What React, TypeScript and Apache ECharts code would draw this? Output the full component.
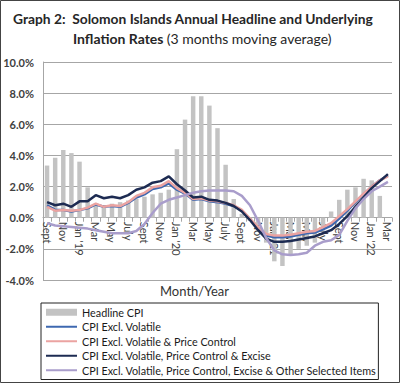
import React, { useEffect, useRef } from "react";
import * as echarts from "echarts";

const categories = [
  "2018-09", "2018-10", "2018-11", "2018-12",
  "2019-01", "2019-02", "2019-03", "2019-04", "2019-05", "2019-06",
  "2019-07", "2019-08", "2019-09", "2019-10", "2019-11", "2019-12",
  "2020-01", "2020-02", "2020-03", "2020-04", "2020-05", "2020-06",
  "2020-07", "2020-08", "2020-09", "2020-10", "2020-11", "2020-12",
  "2021-01", "2021-02", "2021-03", "2021-04", "2021-05", "2021-06",
  "2021-07", "2021-08", "2021-09", "2021-10", "2021-11", "2021-12",
  "2022-01", "2022-02", "2022-03",
];

// shown on every other category, starting with the first
const tickLabels = [
  "Sept", "Nov", "Jan '19", "Mar", "May", "July", "Sept", "Nov",
  "Jan '20", "Mar", "May", "July", "Sept", "Nov", "Jan '21", "Mar",
  "May", "July", "Sept", "Nov", "Jan '22", "Mar",
];

const yTicks = [-4, -2, 0, 2, 4, 6, 8, 10];

const headlineCPI = [
  3.35, 3.85, 4.35, 4.15, 3.6, 1.95, 0.9, 0.8, 0.9, 1.0,
  1.1, 1.2, 1.35, 1.5, 1.6, 1.8, 4.4, 6.3, 7.8, 7.8,
  7.2, 5.75, 3.4, 1.2, 0.25, -0.2, -0.5, -1.6, -2.8, -3.1,
  -2.4, -2.0, -1.8, -1.6, -0.6, 0.4, 1.15, 1.8, 1.95, 2.5,
  2.4, 1.4, null,
];

const exclVolatile = [
  0.8, 0.5, 0.5, 0.4, 0.5, 0.6, 0.85, 0.7, 0.75, 0.7,
  0.95, 1.3, 1.5, 1.85, 1.95, 2.2, 1.8, 1.55, 1.15, 1.2,
  1.05, 1.0, 0.9, 0.75, 0.45, -0.1, -0.7, -1.15, -1.25, -1.25,
  -1.2, -1.1, -1.0, -0.95, -0.75, -0.5, -0.05, 0.45, 1.0, 1.5,
  2.0, 2.4, 2.7,
];

const exclVolatilePriceControl = [
  0.7, 0.45, 0.5, 0.45, 0.5, 0.65, 0.9, 0.7, 0.8, 0.75,
  1.0, 1.4, 1.6, 1.95, 2.05, 2.35, 1.9, 1.6, 1.2, 1.25,
  1.1, 1.05, 0.95, 0.8, 0.5, -0.05, -0.6, -1.05, -1.15, -1.15,
  -1.1, -1.0, -0.9, -0.85, -0.6, -0.35, 0.1, 0.55, 1.05, 1.55,
  2.0, 2.4, 2.65,
];

const exclVolatilePriceControlExcise = [
  1.0, 0.8, 0.9, 0.7, 1.05, 1.05, 1.45, 1.25, 1.35, 1.25,
  1.45, 1.8, 1.95, 2.25, 2.35, 2.65, 2.15, 1.75, 1.3, 1.35,
  1.15, 1.1, 0.95, 0.75, 0.4, -0.15, -0.8, -1.35, -1.55, -1.55,
  -1.5, -1.4, -1.3, -1.2, -1.0, -0.8, -0.4, 0.1, 0.7, 1.3,
  1.9, 2.35, 2.8,
];

const exclOtherSelected = [
  -0.35, -0.5, -0.55, -0.6, -0.65, -0.7, -0.8, -0.9, -1.0, -1.0,
  -1.0, -0.85, -0.4, 0.3, 0.9, 1.15, 1.3, 1.45, 1.6, 1.7,
  1.75, 1.75, 1.75, 1.7, 1.4, 0.8, -0.2, -1.3, -2.1, -2.35,
  -2.4, -2.35, -2.25, -1.8, -1.55, -1.45, -1.1, -0.2, 0.6, 1.2,
  1.7, 2.0, 2.3,
];

const seriesNames = [
  "Headline CPI",
  "CPI Excl. Volatile",
  "CPI Excl. Volatile & Price Control",
  "CPI Excl. Volatile, Price Control & Excise",
  "CPI Excl. Volatile, Price Control, Excise & Other Selected Items",
];

const FONT = "Lato, 'Open Sans', sans-serif";

export default function App() {
  const ref = useRef<HTMLDivElement>(null);

  useEffect(() => {
    if (!ref.current) return;
    const chart = echarts.init(ref.current, undefined, { renderer: "svg" });
    const lineColors = ["#3e68b0", "#eba3a1", "#1d2b52", "#a99dcb"];
    const lineData = [
      exclVolatile,
      exclVolatilePriceControl,
      exclVolatilePriceControlExcise,
      exclOtherSelected,
    ];
    const gridTop = 62;
    const gridBottom = 103;
    const plotH = 383 - gridTop - gridBottom;
    const yMin = yTicks[0];
    const yMax = yTicks[yTicks.length - 1];
    const zeroOffset = (plotH * (0 - yMin)) / (yMax - yMin);

    const option: any = {
      animation: false,
      backgroundColor: "#ffffff",
      textStyle: { fontFamily: FONT },
      grid: { left: 43, right: 8, top: gridTop, bottom: gridBottom, containLabel: false },
      xAxis: {
        type: "category",
        data: categories,
        boundaryGap: true,
        offset: -zeroOffset,
        axisLine: { onZero: false, lineStyle: { color: "#a6a6a6", width: 1 } },
        axisTick: { show: true, interval: 0, length: 4, lineStyle: { color: "#a6a6a6" } },
        axisLabel: {
          interval: 0,
          rotate: -90,
          margin: 4,
          fontSize: 11,
          color: "#404040",
          fontFamily: FONT,
          formatter: (_v: string, i: number) => (i % 2 === 0 ? tickLabels[i / 2] ?? "" : ""),
        },
      },
      yAxis: {
        type: "value",
        min: yMin,
        max: yMax,
        interval: 2,
        axisLine: { show: true, lineStyle: { color: "#a6a6a6" } },
        axisTick: { show: false },
        splitLine: { lineStyle: { color: "#a6a6a6", width: 1 } },
        axisLabel: {
          margin: 9,
          fontSize: 11,
          fontWeight: "bold",
          color: "#404040",
          fontFamily: FONT,
          formatter: (v: number) => v.toFixed(1) + "%",
        },
      },
      legend: {
        orient: "vertical",
        left: 41,
        top: 303,
        padding: [2, 2, 2, 4],
        borderColor: "#222222",
        borderWidth: 1,
        itemWidth: 31,
        itemHeight: 7,
        itemGap: 0,
        itemTextGap: 0,
        textStyle: { fontSize: 10.8, color: "#1a1a1a", fontFamily: FONT, lineHeight: 14.5 },
        data: [
          { name: seriesNames[0], icon: "rect" },
          { name: seriesNames[1], itemStyle: { opacity: 0 } },
          { name: seriesNames[2], itemStyle: { opacity: 0 } },
          { name: seriesNames[3], itemStyle: { opacity: 0 } },
          { name: seriesNames[4], itemStyle: { opacity: 0 } },
        ],
      },
      series: [
        {
          name: seriesNames[0],
          type: "bar",
          data: headlineCPI,
          barWidth: "55%",
          itemStyle: { color: "#c3c3c3" },
        },
        ...lineData.map((d, k) => ({
          name: seriesNames[k + 1],
          type: "line",
          data: d,
          symbol: "none",
          showSymbol: false,
          smooth: false,
          lineStyle: { color: lineColors[k], width: 2.5 },
          itemStyle: { color: lineColors[k] },
        })),
      ],
      graphic: [
        {
          type: "rect",
          shape: { x: 0.5, y: 0.5, width: 399, height: 382 },
          style: { fill: "none", stroke: "#444", lineWidth: 1 },
          silent: true,
        },
        {
          type: "text",
          left: 13,
          top: 11,
          style: {
            text: "Graph 2:  Solomon Islands Annual Headline and Underlying",
            font: `bold 13.8px ${FONT}`,
            fill: "#262626",
          },
        },
        {
          type: "text",
          left: 73,
          top: 31,
          style: {
            text: "{b|Inflation Rates} {r|(3 months moving average)}",
            rich: {
              b: { fontWeight: "bold", fontSize: 14, fontFamily: FONT, fill: "#262626" },
              r: { fontWeight: "normal", fontSize: 14, fontFamily: FONT, fill: "#262626" },
            },
          },
        },
        {
          type: "text",
          left: 160,
          top: 284,
          style: { text: "Month/Year", font: `13px ${FONT}`, fill: "#333333" },
        },
      ],
    };
    chart.setOption(option);
    return () => chart.dispose();
  }, []);

  return (
    <div
      ref={ref}
      style={{ position: "fixed", left: 0, top: 0, width: 400, height: 383 }}
    />
  );
}
